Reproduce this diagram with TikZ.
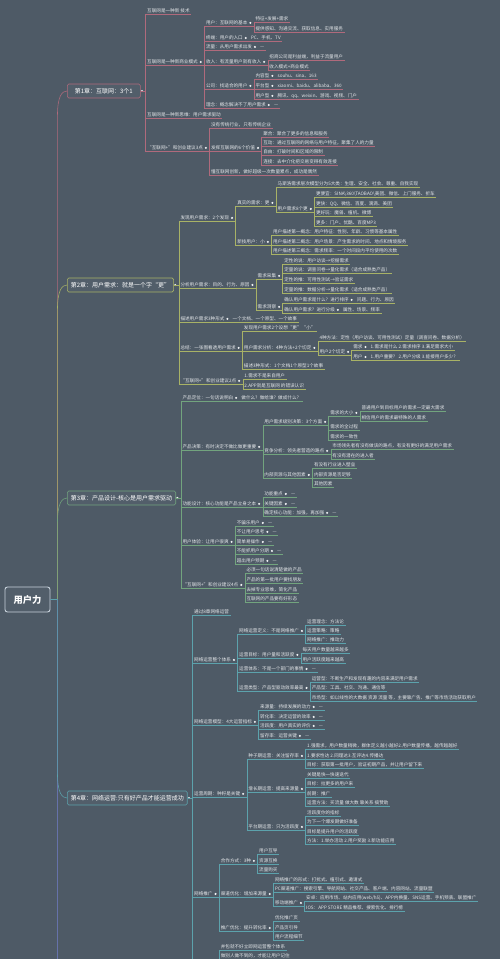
\documentclass[tikz,border=0pt]{standalone}
\usepackage{fontspec}
\newfontfamily\cjk{Noto Sans CJK SC}
\usetikzlibrary{calc}

\definecolor{bgc}{HTML}{4E5A66}
\definecolor{boxc}{HTML}{525E6A}
\definecolor{txtc}{HTML}{E4E7EA}
\definecolor{dotc}{HTML}{F2F4F6}
\definecolor{rootc}{HTML}{C8D2DC}
\definecolor{c1col}{HTML}{B06A7C}
\definecolor{c2col}{HTML}{A8B266}
\definecolor{c3col}{HTML}{72A47E}
\definecolor{c4col}{HTML}{5CA2AC}
\definecolor{c5col}{HTML}{6672AA}

\tikzset{
  item/.style={anchor=south west, font=\cjk\fontsize{4.6}{5.5}\selectfont, text=txtc,
    inner xsep=1.4pt, inner ysep=0.6pt, text height=3.6pt, text depth=1pt},
  dotmark/.style={circle, draw=none, fill=dotc, inner sep=0pt, minimum size=2.3pt,
    text height=0pt, text depth=0pt},
  paritem/.style={item, label distance=0.6pt, label={[dotmark]east:}},
  chap/.style={anchor=west, rounded corners=1.5pt, fill=boxc, text=white, line width=0.6pt,
    font=\cjk\fontsize{6}{7}\selectfont, inner xsep=3.5pt, inner ysep=4pt,
    text height=5pt, text depth=1pt, label distance=0.6pt, label={[dotmark]east:}},
  rootbox/.style={draw=rootc, line width=0.9pt, rounded corners=2.5pt, fill=boxc, text=white,
    font=\cjk\bfseries\fontsize{9.3}{11}\selectfont, minimum width=45pt, minimum height=25pt},
  l1/.style={draw=c1col, line width=0.55pt},
  l2/.style={draw=c2col, line width=0.55pt},
  l3/.style={draw=c3col, line width=0.55pt},
  l4/.style={draw=c4col, line width=0.55pt},
  l5/.style={draw=c5col, line width=0.7pt}
}

% #1 parent, #2 anchor of parent, #3 line style, #4 key/y/style/text
\newcommand\mmkids[4]{%
  \coordinate (#1v) at ([xshift=5pt]#1.#2);
  \draw[#3] (#1.#2) -- (#1v);
  \foreach \k/\y/\s/\t in {#4}{
    \node[\s] (#1\k) at (#1v |- 0,\y) {\t};
    \draw[#3] (#1v) |- (#1\k.south west) -- (#1\k.south east);
  }}

\begin{document}
\begin{tikzpicture}[x=1pt,y=-1pt]
\path[use as bounding box, fill=bgc] (0,0) rectangle (500,959);

% root and chapters
\node[rootbox] (root) at (27.5,599.5) {用户力};
\coordinate (t0) at ([xshift=7pt]root.east);
\node[chap, draw=c1col, minimum width=73pt] (c1) at (67,91) {第1章：互联网：3个1};
\node[chap, draw=c2col] (c2) at (67,285) {第2章：用户需求：就是一个字“更”};
\node[chap, draw=c3col] (c3) at (67,498) {第3章：产品设计-核心是用户需求驱动};
\node[chap, draw=c4col] (c4) at (67,798) {第4章：网络运营:只有好产品才能运营成功};
\coordinate (c5) at (t0 |- 0,970);

\draw[l1] (root.east) -- (t0) -- ($(t0 |- c1.west)+(0,25)$)
  .. controls ($(t0 |- c1.west)+(0,5)$) and ($(c1.west)+(-5,0)$) .. (c1.west);
\draw[l2] (root.east) -- (t0) -- ($(t0 |- c2.west)+(0,25)$)
  .. controls ($(t0 |- c2.west)+(0,5)$) and ($(c2.west)+(-5,0)$) .. (c2.west);
\draw[l3] (root.east) -- (t0) -- ($(t0 |- c3.west)+(0,25)$)
  .. controls ($(t0 |- c3.west)+(0,5)$) and ($(c3.west)+(-5,0)$) .. (c3.west);
\draw[l5] (root.east) -- (t0) -- (c5);
\draw[l4] (root.east) -- (t0) -- ($(t0 |- c4.west)+(0,-25)$)
  .. controls ($(t0 |- c4.west)+(0,-5)$) and ($(c4.west)+(-5,0)$) .. (c4.west);

% chapter 1
\mmkids{c1}{east}{l1}{a/14/item/{互联网是一种新 技术}, b/65/paritem/{互联网是一种新商业模式},
  c/118/item/{互联网是一种新思维：用户需求驱动}, d/151/paritem/{“互联网+”和创业建议3点}}
\mmkids{c1b}{south east}{l1}{1/26/paritem/{用户：互联网的基本}, 2/41/paritem/{终端：用户的入口},
  3/50/paritem/{流量：从用户需求出发}, 4/65/paritem/{收入：有流量用户就有收入},
  5/89/paritem/{公司：找适合的用户}, 6/108/paritem/{理念：概念解决不了用户需求}}
\mmkids{c1b1}{south east}{l1}{1/22/item/{特征+发展+需求}, 2/32/item/{提供感知、沟通交流、获取信息、实用服务}}
\mmkids{c1b2}{south east}{l1}{1/41/item/{PC、手机、TV}}
\mmkids{c1b3}{south east}{l1}{1/50/item/{—}}
\mmkids{c1b4}{south east}{l1}{1/60/item/{招商公司是利益端，利益于流量用户}, 2/70/item/{收入模式+商业模式}}
\mmkids{c1b5}{south east}{l1}{1/79/paritem/{内容型}, 2/89/paritem/{平台型}, 3/99/paritem/{用户型}}
\mmkids{c1b51}{south east}{l1}{1/79/item/{souhu、sina、163}}
\mmkids{c1b52}{south east}{l1}{1/89/item/{xiaomi、baidu、alibaba、360}}
\mmkids{c1b53}{south east}{l1}{1/99/item/{腾讯、qq、weixin、游戏、视频、门户}}
\mmkids{c1b6}{south east}{l1}{1/108/item/{—}}
\mmkids{c1d}{south east}{l1}{1/128/item/{没有传统行业，只有传统企业}, 2/151/paritem/{发挥互联网的6个价值},
  3/175/item/{懂互联网创新，做好超级一次数量累点，成功是偶然}}
\mmkids{c1d2}{south east}{l1}{1/137/item/{聚合：聚合了更多的信息和服务},
  2/146/item/{互动：通过互联网的网络与用户特征，聚集了人的力量},
  3/155/item/{自由：打破时间和区域的限制}, 4/165/item/{连接：去中介化把交易变得有效连接}}

% chapter 2
\mmkids{c2}{east}{l2}{a/221/paritem/{发现用户需求：2个发现}, b/288/paritem/{分析用户需求：目的、行为、原因},
  c/322/paritem/{描述用户需求3种形式}, d/351/paritem/{总结：一张图看透用户需求},
  e/384/paritem/{“互联网+”和创业建议2点}}
\mmkids{c2a}{south east}{l2}{1/206/paritem/{真实的需求：更}, 2/245/paritem/{新技用户：小}}
\mmkids{c2a1}{south east}{l2}{1/187/item/{马斯洛需求层次模型分为5大类：生理、安全、社会、尊重、自我实现},
  2/212/paritem/{用户需求8个更}}
\mmkids{c2a12}{south east}{l2}{1/197/item/{更便宜：SINA\textbackslash 360\textbackslash TAOBAO\textbackslash 美团、微信、上门服务、折车},
  2/207/item/{更快：QQ、微信、百度、滴滴、美团}, 3/216/item/{更好玩：魔兽、植机、微博},
  4/226/item/{更多：门户、优酷、百度MP3}}
\mmkids{c2a2}{south east}{l2}{1/235/item/{用户描述第一概念：用户特征：性别、年龄、习惯等基本属性},
  2/245/item/{用户描述第二概念：用户场景：产生需求的时间、地点和情境服务},
  3/254/item/{用户描述第三概念：需求频率：一个时间段内平均使用的次数}}
\mmkids{c2b}{south east}{l2}{1/279/paritem/{需求采集}, 2/310/paritem/{需求洞察}}
\mmkids{c2b1}{south east}{l2}{1/264/item/{定性的说：用户访谈→挖掘需求},
  2/273/item/{定量的说：调查问卷→量化需求（适合成熟类产品）},
  3/283/item/{定性的推：可用性测试→验证需求},
  4/293/item/{定量的推：数据分析→量化需求（适合成熟类产品）}}
\mmkids{c2b2}{south east}{l2}{1/303/paritem/{确认用户需求是什么？进行排序}, 2/313/paritem/{确认用户需求？进行分级}}
\mmkids{c2b21}{south east}{l2}{1/303/item/{问题、行为、原因}}
\mmkids{c2b22}{south east}{l2}{1/313/item/{属性、场景、频率}}
\mmkids{c2c}{south east}{l2}{1/322/item/{一个文档、一个原型、一个故事}}
\mmkids{c2d}{south east}{l2}{1/331/item/{发现用户需求2个设想“更”“小”},
  2/351/paritem/{用户需求分析：4种方法+2个切定}, 3/369/item/{描述3种形式：1个文档1个原型1个故事}}
\mmkids{c2d2}{south east}{l2}{1/341/item/{4种方法：定性（用户访谈、可用性测试）定量（调查问卷、数据分析）},
  2/355/paritem/{用户2个切定}}
\mmkids{c2d22}{south east}{l2}{1/350/paritem/{需求}, 2/360/paritem/{用户}}
\mmkids{c2d221}{south east}{l2}{1/350/item/{1.需求是什么 2.需求排序 3.满足需求大小}}
\mmkids{c2d222}{south east}{l2}{1/360/item/{1.用户重要？ 2.用户分级 3.能接用户多少？}}
\mmkids{c2e}{south east}{l2}{1/379/item/{1.需求不是来自用户}, 2/389/item/{2.APP就是互联网 的错误认识}}

% chapter 3
\mmkids{c3}{east}{l3}{a/401/paritem/{产品定位：一句话说明白}, b/450/paritem/{产品决策：有时决定不做比做更重要},
  c/507/paritem/{功能设计：核心功能是产品立身之本}, d/545/paritem/{用户体验：让用户很爽},
  e/588/paritem/{“互联网+”和创业建议4点}}
\mmkids{c3a}{south east}{l3}{1/401/item/{做什么？做给谁？做成什么？}}
\mmkids{c3b}{south east}{l3}{1/425/paritem/{用户需求级别决策：3个方面}, 2/454/paritem/{竞争分析：领先者营造的路点},
  3/478/paritem/{内部资源与其他因素}}
\mmkids{c3b1}{south east}{l3}{1/416/paritem/{需求的大小}, 2/430/item/{需求的全过程}, 3/440/item/{需求的一致性}}
\mmkids{c3b11}{south east}{l3}{1/411/item/{普通用户到目标用户的需求一定最大需求}, 2/421/item/{相信用户的需求最特殊的人需求}}
\mmkids{c3b2}{south east}{l3}{1/449/item/{市场领先者有没有做该的路点，有没有更好的满足用户需求},
  2/459/item/{有没有潜在的进入者}}
\mmkids{c3b3}{south east}{l3}{1/468/item/{有没有行业进入壁垒}, 2/478/item/{内部资源是否足够}, 3/487/item/{其他因素}}
\mmkids{c3c}{south east}{l3}{1/497/paritem/{功能重点}, 2/507/paritem/{关键因素}, 3/516/paritem/{确定核心功能：加强，再加强}}
\mmkids{c3d}{south east}{l3}{1/526/paritem/{不骗乐用户}, 2/535/paritem/{不让用户思考}, 3/545/paritem/{简单易操作},
  4/554/paritem/{不能抓用户分期}, 5/564/paritem/{超出用户预期}}
\foreach \p/\yy in {c3c1/497, c3c2/507, c3c3/516, c3d1/526, c3d2/535, c3d3/545, c3d4/554, c3d5/564}
  {\mmkids{\p}{south east}{l3}{1/\yy/item/{—}}}
\mmkids{c3e}{south east}{l3}{1/573/item/{必须一句话说清楚做的产品}, 2/583/item/{产品的第一批用户要找朋友},
  3/593/item/{去掉专业思维，简化产品}, 4/602/item/{互联网的产品要有好形态}}

% chapter 4
\mmkids{c4}{east}{l4}{a/615/item/{通过8章网络运营}, b/663/paritem/{网络运营整个体系},
  c/725/paritem/{网络运营模型：4大运营指标}, d/797/paritem/{运营周期：种籽是关键}, e/897/paritem/{网络推广}}
\draw[l4] (c4v) -- (c4v |- 0,970);
\mmkids{c4b}{south east}{l4}{1/634/paritem/{网络运营定义：不是网络推广}, 2/658/paritem/{运营目标：用户量和活跃度},
  3/672/paritem/{运营体系：不是一个部门的事情}, 4/691/paritem/{运营类型：产品型驱动效率最高}}
\mmkids{c4b1}{south east}{l4}{1/625/item/{运营理念：方法论}, 2/634/item/{运营策略：策略}, 3/643/item/{网络推广：推动力}}
\mmkids{c4b2}{south east}{l4}{1/653/item/{每天用户数量越来越多}, 2/663/item/{用户活跃度越来越高}}
\mmkids{c4b3}{south east}{l4}{1/672/item/{—}}
\mmkids{c4b4}{south east}{l4}{1/682/item/{运营型：不断生产和发现有趣的内容来满足用户需求},
  2/691/item/{产品型：工具、社交、沟通、通信等},
  3/701/item/{市场型：如以线性的大数据 资源 流量 等，主要靠广告、推广等市场活动获取用户}}
\mmkids{c4c}{south east}{l4}{1/710/paritem/{来源量：持续发展的动力}, 2/720/paritem/{转化率：决定运营的效率},
  3/729/paritem/{活跃度：用户真实的评价}, 4/739/paritem/{留存率：运营关键}}
\foreach \p/\yy in {c4c1/710, c4c2/720, c4c3/729, c4c4/739}
  {\mmkids{\p}{south east}{l4}{1/\yy/item/{—}}}
\mmkids{c4d}{south east}{l4}{1/759/paritem/{种子期运营：关注留存率}, 2/792/paritem/{增长期运营：提高来源量},
  3/830/paritem/{平台期运营：只为活跃度}}
\mmkids{c4d1}{south east}{l4}{1/749/item/{1.强需求，用户数量稍微，群体定义越小越好2.用户数量传播，越传越越好},
  2/759/item/{1.要求性达 2.同理达3.互评达4.传播达},
  3/768/item/{目标：获取第一批用户，验证初期产品，并让用户留下来}}
\mmkids{c4d2}{south east}{l4}{1/778/item/{关键是快一快速迭代}, 2/787/item/{目标：拉更多的用户来},
  3/797/item/{前期：推广}, 4/806/item/{运营方法：买流量 做大数 靠关系 搞赞助}}
\mmkids{c4d3}{south east}{l4}{1/816/item/{活跃度你的指标}, 2/825/item/{为下一个爆发期做好准备},
  3/835/item/{目标是提升用户的活跃度}, 4/844/item/{方法：1.举办活动 2.用户奖励 3.新功能应用}}
\mmkids{c4e}{south east}{l4}{1/864/paritem/{合作方式：3种}, 2/897/paritem/{渠道优化：增加来源量},
  3/931/paritem/{推广优化：提升转化率}}
\mmkids{c4e1}{south east}{l4}{1/854/item/{用户互导}, 2/864/item/{资源互换}, 3/873/item/{流量购买}}
\mmkids{c4e2}{south east}{l4}{1/883/item/{网络推广的形式：打扰式、植引式、邀请式},
  2/892/item/{PC渠道推广：搜索引擎、导航网站、社交产品、客户端、内容网站、流量联盟},
  3/906/paritem/{移动端推广}}
\mmkids{c4e23}{south east}{l4}{1/901/item/{安卓：应用市场、站内应用(web/h5)、APP内换量、SNS运营、手机预装、联盟推广},
  2/911/item/{IOS：APP STORE 精品推荐、搜索优化、排行榜}}
\mmkids{c4e3}{south east}{l4}{1/921/item/{优化推广页}, 2/931/item/{产品页引导}, 3/940/item/{用户流程细节}}

% branch running off the bottom edge
\coordinate (c4fv) at (c4ev |- 0,975);
\node[item] (c4f1) at (c4fv |- 0,950) {并包就不好立即网运营整个体系};
\node[item] (c4f2) at (c4fv |- 0,959.5) {做别人做不到的，才能让用户记住};
\draw[l4] (c4fv) |- (c4f1.south west) -- (c4f1.south east);
\draw[l4] (c4fv) |- (c4f2.south west) -- (c4f2.south east);
\end{tikzpicture}
\end{document}
